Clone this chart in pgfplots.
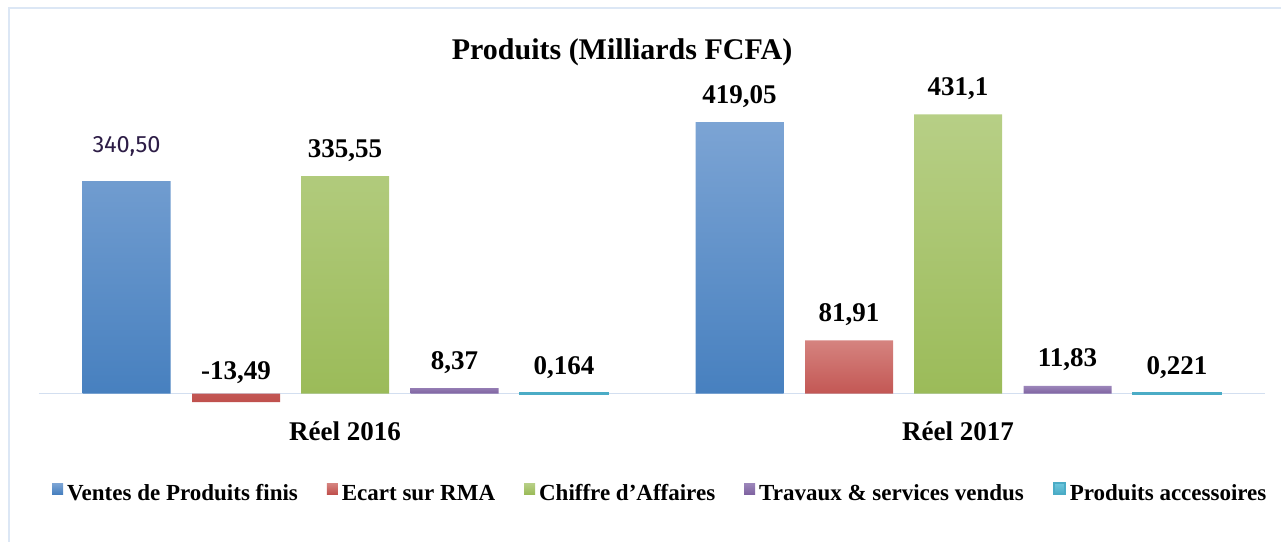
\documentclass[border=0pt]{standalone}
\usepackage{pgfplots}
\pgfplotsset{compat=1.18}
\usepackage{fontspec}
\setmainfont{Liberation Serif}
\newfontfamily\fira{Fira Sans}
\definecolor{bluetop}{HTML}{7CA4D4}
\definecolor{bluebot}{HTML}{4780BF}
\definecolor{redtop}{HTML}{D5837F}
\definecolor{redbot}{HTML}{C0504D}
\definecolor{greentop}{HTML}{B7CF86}
\definecolor{greenbot}{HTML}{9BBB59}
\definecolor{purptop}{HTML}{9C86BA}
\definecolor{purpbot}{HTML}{7F63A1}
\definecolor{cyantop}{HTML}{6CC6DD}
\definecolor{cyanbot}{HTML}{4BACC6}
\definecolor{framec}{HTML}{DCE7F5}
\definecolor{axisc}{HTML}{D3DFF0}
\definecolor{labpurple}{HTML}{2D1D46}
\begin{document}
\begin{tikzpicture}
\useasboundingbox (0,0) rectangle (640.5bp,-271bp);
\draw[framec, line width=0.75bp] (4.5bp,-272bp) -- (4.5bp,-4bp) -- (642bp,-4bp);
\begin{axis}[
  at={(19.25bp,-205bp)}, anchor=south west,
  scale only axis, width=613bp, height=155bp,
  xmin=-0.5, xmax=1.5, ymin=-25.48, ymax=453.3,
  axis line style={draw=none}, major tick length=0,
  ytick=\empty, xtick={0,1}, xticklabels={Réel 2016, Réel 2017},
  xticklabel style={font=\fontsize{13.5bp}{16bp}\selectfont\bfseries, anchor=base, yshift=-15bp},
  extra y ticks={0}, extra y tick labels={},
  extra y tick style={grid=major, major grid style={draw=axisc, line width=0.75bp}},
  ybar, bar width=44bp,
  nodes near coords, point meta=explicit symbolic,
  every node near coord/.append style={font=\fontsize{13.5bp}{16bp}\selectfont\bfseries, anchor=base, yshift=9.5bp, text=black},
  title={Produits (Milliards FCFA)},
  title style={at={(0.476,1)}, anchor=base, yshift=14.5bp, font=\fontsize{15bp}{18bp}\selectfont\bfseries},
  legend columns=-1,
  legend style={at={(0.508,-0.271)}, anchor=center, draw=none, fill=none,
    font=\fontsize{11.5bp}{14bp}\selectfont\bfseries,
    /tikz/every even column/.append style={column sep=12.5bp}},
  legend image code/.code={\fill[#1] (0.5bp,0bp) rectangle (6bp,5.3bp);},
  clip=false,
]
\addplot[draw=none, top color=bluetop, bottom color=bluebot, bar shift=-109.25bp]
  coordinates {(0,328) [{\raisebox{5bp}{\fontsize{11.8bp}{14bp}\selectfont\mdseries\fira\color{labpurple}340,50}}] (1,419.05) [419,05]};
\addplot[draw=none, top color=redtop, bottom color=redbot, bar shift=-54.5bp]
  coordinates {(0,-13.49) [{\raisebox{2bp}{-13,49}}] (1,81.91) [81,91]};
\addplot[draw=none, top color=greentop, bottom color=greenbot, bar shift=0bp]
  coordinates {(0,335.55) [335,55] (1,431.1) [431,1]};
\addplot[draw=none, top color=purptop, bottom color=purpbot, bar shift=54.75bp]
  coordinates {(0,8.37) [8,37] (1,11.83) [11,83]};
\addplot[draw=cyanbot, line width=1bp, top color=cyantop, bottom color=cyanbot, bar shift=109.5bp]
  coordinates {(0,0.164) [0,164] (1,0.221) [0,221]};
\legend{Ventes de Produits finis, Ecart sur RMA, Chiffre d’Affaires, Travaux \& services vendus, Produits accessoires}
\end{axis}
\end{tikzpicture}
\end{document}
